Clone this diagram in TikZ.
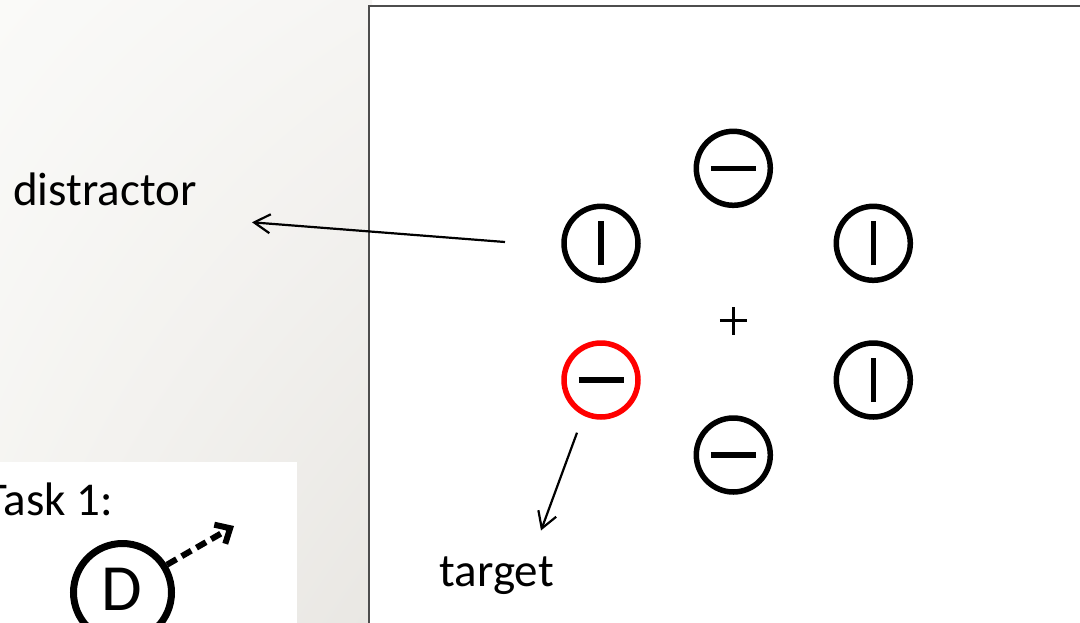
\documentclass[tikz,border=0pt]{standalone}
\usepackage{fontspec}
\setmainfont{Carlito}
\usetikzlibrary{arrows.meta,shadings}
\definecolor{frameC}{HTML}{4D4D4D}
\definecolor{tred}{HTML}{FF0000}
\definecolor{bgUL}{HTML}{FAFAF8}
\definecolor{bgUR}{HTML}{F6F5F3}
\definecolor{bgLL}{HTML}{F4F3F0}
\definecolor{bgLR}{HTML}{E9E7E3}
\begin{document}
\begin{tikzpicture}[x=1pt,y=-1pt,
  stim/.style={circle,draw=black,line width=5.5pt,minimum size=74pt,inner sep=0pt},
  bar/.style={line width=5.5pt},
  lbl/.style={font=\fontsize{47}{54}\selectfont,inner sep=0pt},
  pointer/.style={line width=2.2pt,-{Straight Barb[length=16pt,width=19pt]}},
  dasharrow/.style={line width=6pt,dash pattern=on 11pt off 6pt,-{Straight Barb[length=12pt,width=22pt]}}]
\useasboundingbox (0,0) rectangle (1080,622);
% background
\shade[upper left=bgUL,upper right=bgUR,lower left=bgLL,lower right=bgLR] (0,0) rectangle (372,622);
% display frame
\draw[frameC,line width=1.5pt,fill=white] (369,6) rectangle (1095,640);
% task box
\fill[white] (0,462) rectangle (297,630);
% stimuli
\node[stim] (n) at (733.3,168.3) {};
\node[stim] (ul) at (601,243.3) {};
\node[stim] (ur) at (873.3,243.3) {};
\node[stim,draw=tred] (tg) at (601,380) {};
\node[stim] (lr) at (873.3,380) {};
\node[stim] (s) at (733.3,455) {};
\draw[bar] ([xshift=-22.5pt]n.center) -- ([xshift=22.5pt]n.center);
\draw[bar] ([xshift=-22.5pt]tg.center) -- ([xshift=22.5pt]tg.center);
\draw[bar] ([xshift=-22.5pt]s.center) -- ([xshift=22.5pt]s.center);
\draw[bar] ([yshift=-22pt]ul.center) -- ([yshift=22pt]ul.center);
\draw[bar] ([yshift=-22pt]ur.center) -- ([yshift=22pt]ur.center);
\draw[bar] ([yshift=-22pt]lr.center) -- ([yshift=22pt]lr.center);
% fixation cross
\coordinate (fix) at (733.3,320.5);
\draw[line width=3.5pt] ([xshift=-13.5pt]fix) -- ([xshift=13.5pt]fix);
\draw[line width=3.5pt] ([yshift=-14pt]fix) -- ([yshift=14pt]fix);
% labels
\node[lbl,anchor=base west] (dist) at (13,205) {distractor};
\node[lbl,anchor=base west] (tgt) at (439.5,586.7) {target};
\node[lbl,anchor=base east] (task) at (113,515) {Task 1:};
% pointers
\coordinate (dsrc) at (505,242);
\coordinate (dtip) at (252,222.3);
\draw[pointer] (dsrc) -- (dtip);
\coordinate (tsrc) at (577,432.7);
\coordinate (ttip) at (541,530.5);
\draw[pointer] (tsrc) -- (ttip);
% task 1 symbol
\node[circle,draw=black,line width=7pt,minimum size=98pt,inner sep=0pt] (dc) at (122.5,592.5) {};
\node[font=\fontsize{66}{72}\selectfont,inner sep=0pt,anchor=base] (dl) at (122,610) {D};
\coordinate (dashtip) at (234,526);
\draw[dasharrow] (dc.32) -- (dashtip);
\end{tikzpicture}
\end{document}
